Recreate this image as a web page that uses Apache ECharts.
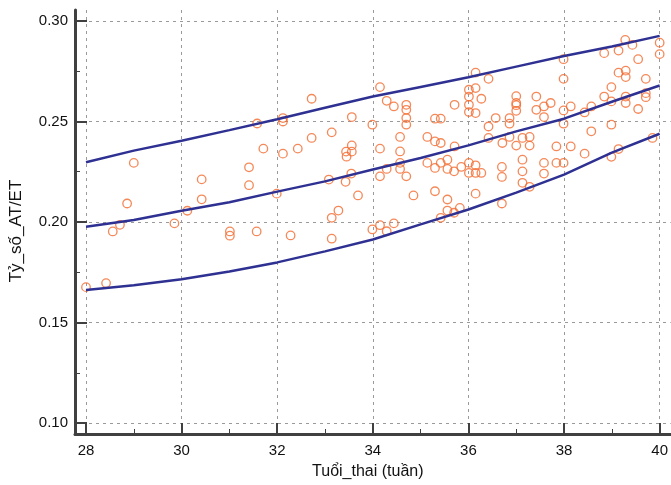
<!DOCTYPE html>
<html>
<head>
<meta charset="utf-8">
<script src="https://cdn.jsdelivr.net/npm/echarts@6/dist/echarts.min.js"></script>
<style>
  html, body { margin: 0; padding: 0; background: #fff; }
  #main { width: 671px; height: 485px; }
</style>
</head>
<body>
<div id="main"></div>
<script>
  // tuổi thai (tuần) của từng điểm đo
  var ageWeeks = [
    28.00, 28.42, 28.56, 28.71, 28.86, 29.00, 29.85, 30.12, 30.42, 30.42,
    31.01, 31.01, 31.57, 31.41, 31.41, 31.71, 31.58, 32.12, 32.12, 32.72,
    32.12, 32.43, 32.72, 33.14, 33.56, 33.99, 34.15, 34.29, 34.44, 34.70,
    34.70, 34.70, 34.70, 35.30, 35.42, 35.71, 33.56, 33.56, 33.44, 33.45,
    34.15, 34.57, 34.57, 35.14, 35.30, 35.42, 31.99, 33.08, 33.43, 33.55,
    33.69, 33.28, 33.14, 32.28, 33.14, 33.99, 34.15, 34.29, 34.44, 34.15,
    34.29, 34.57, 34.57, 34.70, 34.85, 35.14, 35.30, 35.42, 35.56, 35.56,
    35.70, 35.30, 35.56, 35.56, 35.70, 35.82, 35.42, 39.28, 39.43, 39.14,
    38.84, 40.00, 40.00, 39.55, 37.99, 37.99, 36.15, 36.42, 39.14, 39.29,
    39.29, 39.71, 36.01, 36.01, 36.01, 36.01, 36.15, 36.27, 36.15, 37.00,
    37.00, 37.00, 37.00, 37.42, 37.42, 37.58, 37.72, 37.58, 37.99, 38.14,
    38.43, 38.57, 38.99, 38.84, 38.99, 39.29, 39.29, 39.71, 39.71, 39.55,
    36.86, 36.86, 36.57, 36.42, 37.99, 38.99, 38.57, 36.42, 36.71, 36.86,
    37.13, 37.28, 37.00, 37.28, 37.84, 38.14, 38.43, 39.14, 39.85, 35.71,
    38.99, 35.85, 36.01, 36.01, 36.15, 36.15, 36.27, 36.70, 36.70, 37.13,
    37.13, 37.13, 37.28, 37.58, 37.58, 37.84, 37.99, 36.15, 36.70
  ]
  // tỷ số AT/ET tương ứng
  var ratio = [
    0.1676, 0.1696, 0.1953, 0.1986, 0.2092, 0.2294, 0.1993, 0.2056, 0.2113, 0.2212,
    0.1953, 0.1932, 0.1953, 0.2183, 0.2272, 0.2365, 0.2490, 0.2517, 0.2500, 0.2613,
    0.2340, 0.2365, 0.2418, 0.2446, 0.2522, 0.2484, 0.2671, 0.2603, 0.2575, 0.2583,
    0.2558, 0.2517, 0.2484, 0.2514, 0.2514, 0.2583, 0.2381, 0.2350, 0.2350, 0.2325,
    0.2365, 0.2423, 0.2351, 0.2423, 0.2401, 0.2393, 0.2141, 0.2211, 0.2200, 0.2241,
    0.2132, 0.2057, 0.2021, 0.1933, 0.1917, 0.1963, 0.1984, 0.1954, 0.1993, 0.2227,
    0.2264, 0.2294, 0.2264, 0.2227, 0.2132, 0.2294, 0.2269, 0.2294, 0.2310, 0.2264,
    0.2252, 0.2153, 0.2112, 0.2057, 0.2046, 0.2070, 0.2021, 0.2906, 0.2881, 0.2853,
    0.2840, 0.2892, 0.2835, 0.2810, 0.2810, 0.2712, 0.2743, 0.2712, 0.2743, 0.2753,
    0.2721, 0.2712, 0.2658, 0.2624, 0.2583, 0.2547, 0.2666, 0.2613, 0.2542, 0.2626,
    0.2592, 0.2581, 0.2553, 0.2624, 0.2558, 0.2575, 0.2592, 0.2522, 0.2555, 0.2575,
    0.2545, 0.2575, 0.2671, 0.2624, 0.2600, 0.2624, 0.2592, 0.2641, 0.2621, 0.2562,
    0.2517, 0.2489, 0.2517, 0.2475, 0.2489, 0.2484, 0.2451, 0.2418, 0.2393, 0.2423,
    0.2418, 0.2423, 0.2380, 0.2380, 0.2376, 0.2376, 0.2340, 0.2363, 0.2418, 0.2376,
    0.2324, 0.2274, 0.2294, 0.2244, 0.2282, 0.2244, 0.2244, 0.2274, 0.2224, 0.2310,
    0.2252, 0.2195, 0.2175, 0.2294, 0.2241, 0.2294, 0.2294, 0.2141, 0.2092
  ]

  // các đường tham chiếu
  var curveWeeks = [28, 29, 30, 31, 32, 33, 34, 35, 36, 37, 38, 39, 40]
  var upperCurve = [0.2297, 0.2355, 0.2404, 0.2457, 0.2511, 0.2568, 0.2624, 0.2672, 0.2720, 0.2773, 0.2826, 0.2873, 0.2926]
  var middleCurve = [0.1976, 0.2010, 0.2056, 0.2098, 0.2151, 0.2202, 0.2261, 0.2318, 0.2381, 0.2451, 0.2514, 0.2598, 0.2679]
  var lowerCurve = [0.1662, 0.1685, 0.1715, 0.1754, 0.1799, 0.1854, 0.1913, 0.1988, 0.2062, 0.2146, 0.2236, 0.2345, 0.2439]

  var xTicks = [28, 30, 32, 34, 36, 38, 40]
  var yTicks = [0.10, 0.15, 0.20, 0.25, 0.30]

  var font = 'Liberation Sans, Arial, Helvetica, sans-serif'
  var axisColor = '#404040'
  var gridLine = { show: true, lineStyle: { color: '#9a9a9a', width: 1, type: [3, 4] } }

  function zip (xs, ys) {
    var out = []
    for (var i = 0; i < xs.length; i++) {
      out.push([xs[i], ys[i]])
    }
    return out
  }

  function curve (values) {
    return {
      type: 'line',
      data: zip(curveWeeks, values),
      showSymbol: false,
      smooth: false,
      z: 3,
      lineStyle: { color: '#2e3192', width: 2.5 }
    }
  }

  var myChart = echarts.init(document.getElementById('main'), null, { renderer: 'canvas' })
  var option = {
    animation: false,
    backgroundColor: '#fff',
    textStyle: { fontFamily: font },
    grid: { left: 75, right: 0, top: 10, bottom: 50, containLabel: false },
    xAxis: {
      type: 'value',
      min: 27.77,
      max: 40.23,
      splitNumber: 6,
      name: 'Tuổi_thai (tuần)',
      nameLocation: 'middle',
      nameGap: 30,
      nameTextStyle: { fontSize: 16, color: '#111', fontFamily: font, padding: [0, 10, 0, 0] },
      axisLine: { show: true, onZero: false, lineStyle: { color: axisColor, width: 3 } },
      axisTick: { show: true, inside: true, length: 11, customValues: xTicks, lineStyle: { color: axisColor, width: 2 } },
      minorTick: { show: true, splitNumber: 2, length: 5, lineStyle: { color: axisColor, width: 1 } },
      axisLabel: {
        customValues: xTicks,
        margin: 9,
        fontSize: 15,
        color: '#111',
        fontFamily: font,
        formatter: function (v) { return Math.abs(v - Math.round(v)) < 1e-6 ? String(v) : '' }
      },
      splitLine: gridLine
    },
    yAxis: {
      type: 'value',
      min: 0.09454,
      max: 0.30546,
      splitNumber: 4,
      name: 'Tỷ_số_AT/ET',
      nameLocation: 'middle',
      nameGap: 50,
      nameTextStyle: { fontSize: 17, color: '#111', fontFamily: font, padding: [0, 18, 0, 0] },
      axisLine: { show: true, onZero: false, lineStyle: { color: axisColor, width: 3 } },
      axisTick: { show: true, inside: true, length: 12, customValues: yTicks, lineStyle: { color: axisColor, width: 2 } },
      minorTick: { show: true, splitNumber: 2, length: 5, lineStyle: { color: axisColor, width: 1 } },
      axisLabel: {
        customValues: yTicks,
        margin: 7,
        fontSize: 15,
        color: '#111',
        fontFamily: font,
        formatter: function (v) { return Math.abs(v * 20 - Math.round(v * 20)) < 1e-6 ? v.toFixed(2) : '' }
      },
      splitLine: gridLine
    },
    series: [
      {
        type: 'scatter',
        data: zip(ageWeeks, ratio),
        symbol: 'circle',
        symbolSize: 8.5,
        z: 2,
        itemStyle: { color: 'rgba(0,0,0,0)', borderColor: '#f26a2e', borderWidth: 1.3 }
      },
      curve(upperCurve),
      curve(middleCurve),
      curve(lowerCurve)
    ]
  }
  myChart.setOption(option)
</script>
</body>
</html>
